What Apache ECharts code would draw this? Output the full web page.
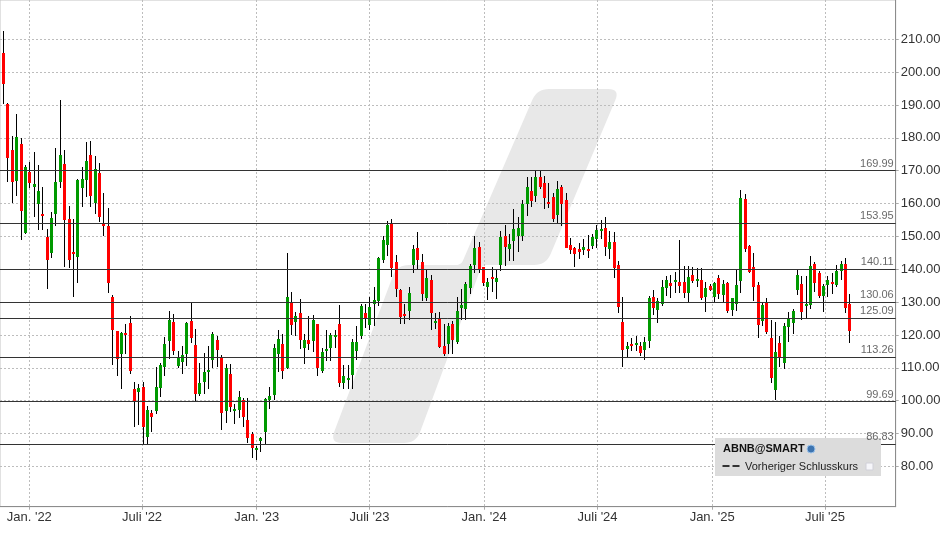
<!DOCTYPE html>
<html><head><meta charset="utf-8">
<script src="https://cdn.jsdelivr.net/npm/echarts@6/dist/echarts.min.js"></script>
<style>html,body{margin:0;padding:0;background:#fff}#c{width:948px;height:534px}</style>
</head><body><div id="c"></div>
<script>
// ---- data ----
const firstCandleDate = [2021, 10, 20]; // weekly candles, step 7 days
const opens = [205.9,190.3,176.3,167.0,178.1,151.1,169.7,165.2,159.7,156.8,149.8,144.8,156.9,166.6,172.0,155.2,145.4,143.7,164.6,167.2,174.8,160.0,169.3,153.9,153.2,131.7,121.1,114.1,120.5,123.5,103.4,102.6,104.0,89.2,96.1,96.8,104.1,110.1,118.4,123.8,110.4,111.8,114.1,124.1,116.8,101.9,105.6,108.6,112.3,118.4,113.2,96.7,108.0,97.0,97.0,100.1,94.0,89.7,84.9,87.6,90.3,100.1,101.6,114.1,117.1,110.1,129.9,124.1,126.6,115.9,118.4,118.0,123.2,108.9,115.0,115.9,119.3,123.2,105.3,106.2,108.0,115.3,119.6,126.6,122.9,129.3,130.2,142.6,147.3,154.0,142.1,133.6,126.3,127.2,141.2,146.4,142.1,131.1,136.6,123.5,125.0,116.5,117.1,123.2,117.7,128.1,128.1,134.2,141.5,146.8,140.7,134.5,137.6,135.9,141.2,150.0,146.1,148.8,150.3,150.0,159.8,163.7,162.1,168.0,166.4,160.4,161.9,156.4,164.9,161.0,147.3,146.4,146.1,145.7,146.1,147.0,149.1,151.8,152.7,146.1,148.2,141.2,123.8,115.6,117.1,116.8,116.5,115.3,118.0,131.7,127.5,129.3,134.2,135.7,136.0,136.0,136.0,132.7,138.1,136.3,136.6,131.4,134.8,131.4,137.2,132.1,135.7,127.5,129.3,136.3,161.3,147.0,140.6,135.1,124.1,129.9,119.0,103.1,117.4,111.4,122.6,123.5,133.6,135.4,128.7,129.0,141.5,138.8,131.7,135.1,136.0,135.1,139.4,141.5,129.3];
const closes = [196.5,174.0,166.7,180.3,157.8,171.1,166.4,166.0,163.8,156.3,142.9,155.6,166.6,174.8,155.1,142.7,144.8,167.1,167.4,173.0,162.3,170.5,156.0,153.3,135.9,121.7,112.6,120.5,120.0,109.0,99.6,103.7,91.7,97.3,94.9,104.0,111.0,117.1,124.7,115.0,112.9,113.8,123.5,119.0,101.9,105.3,108.6,109.2,120.2,115.3,96.1,109.8,98.0,97.6,101.0,94.9,88.5,85.5,85.5,88.5,100.4,101.3,115.9,118.7,108.9,131.7,122.9,125.9,118.4,118.4,117.1,124.4,109.8,114.7,115.6,119.9,119.9,105.3,107.4,106.8,118.0,118.0,128.7,124.7,128.4,130.5,143.3,148.8,153.4,140.3,133.9,125.4,125.7,132.7,146.1,142.7,132.4,137.2,126.6,124.1,116.5,114.1,122.6,118.4,127.2,129.0,135.6,140.9,146.6,139.7,135.9,136.0,137.0,137.2,149.7,146.7,147.6,152.4,152.7,159.8,164.9,160.7,168.0,164.9,161.9,159.8,155.2,164.3,159.8,146.4,145.7,144.5,145.1,146.7,145.4,149.7,151.8,152.4,147.0,148.2,140.3,128.4,115.3,116.5,116.5,117.4,114.4,117.7,131.1,128.4,130.2,134.5,136.6,134.8,136.6,134.8,132.7,137.5,136.3,136.9,131.1,134.2,133.6,135.7,132.4,135.4,127.2,131.1,135.1,161.6,146.1,139.1,134.5,122.9,129.0,120.8,106.8,114.7,112.9,122.6,125.0,127.2,138.1,126.9,129.3,140.9,135.7,131.7,134.8,136.6,135.4,139.4,141.5,128.1,121.1];
const highs = [212.5,190.5,180.6,187.3,180.0,171.7,172.5,175.6,171.7,165.0,152.3,157.4,176.9,191.5,176.3,159.4,155.2,167.5,171.0,178.7,179.1,174.5,172.4,163.2,158.7,132.1,121.1,120.8,123.2,125.7,105.6,105.0,105.6,98.3,97.3,110.1,111.5,119.3,127.2,126.5,115.0,116.5,123.8,129.6,121.7,111.4,114.4,116.5,120.8,119.6,113.8,111.3,111.3,99.1,102.8,100.7,100.7,90.6,86.1,88.8,100.7,104.0,117.1,121.4,120.2,144.8,133.0,126.9,130.8,120.2,125.7,126.0,123.2,115.9,121.4,120.5,121.4,129.0,111.0,110.7,118.7,122.6,129.3,129.3,131.7,134.5,143.6,150.0,154.6,155.2,144.2,133.9,129.3,134.5,147.3,151.2,144.5,140.0,138.1,126.6,126.9,123.2,123.5,124.1,131.7,133.9,136.0,141.5,150.0,148.4,140.7,137.2,140.7,140.1,151.5,153.4,150.6,158.2,155.8,161.0,168.0,168.0,169.8,169.8,168.3,166.4,163.1,166.8,165.8,163.1,149.4,146.7,147.9,149.1,150.3,150.6,153.4,154.9,155.8,151.5,151.2,142.4,131.4,117.7,119.0,119.6,118.0,119.3,132.0,133.6,131.1,136.6,137.8,138.1,139.1,148.8,140.9,140.9,140.6,140.3,140.3,136.0,135.4,136.0,138.1,136.6,136.0,131.1,139.7,164.0,162.8,147.3,144.8,136.0,129.6,131.1,124.7,123.8,119.6,123.5,126.9,127.8,139.9,137.8,137.8,143.9,142.1,139.4,135.4,137.8,138.8,141.2,142.4,143.3,132.4];
const lows = [190.2,166.7,160.3,162.4,149.0,150.7,164.8,156.0,151.8,152.0,134.1,143.5,153.3,164.8,140.8,140.3,131.5,135.7,158.8,162.0,159.1,156.9,154.5,150.2,132.9,111.0,107.4,103.4,114.1,108.0,92.0,92.7,86.5,86.8,90.3,95.8,101.1,107.5,112.6,113.8,109.8,108.0,110.4,117.4,99.8,101.3,101.9,103.4,109.8,110.1,91.0,93.1,96.4,92.8,94.6,91.9,87.0,82.4,81.8,84.3,86.7,97.4,100.1,108.6,106.5,109.5,119.9,119.6,115.6,111.3,115.3,114.7,107.4,108.3,112.0,112.0,115.9,104.0,103.4,103.4,103.4,112.3,118.7,122.0,121.4,122.6,128.7,141.9,143.9,137.6,131.4,123.2,123.2,124.7,138.8,139.7,130.2,130.2,121.4,121.7,115.9,113.5,114.1,114.1,117.1,124.7,124.7,132.4,138.8,138.8,134.8,130.5,133.1,130.8,139.4,140.9,142.4,142.4,145.1,148.5,156.1,158.8,160.4,164.3,158.2,158.5,154.3,153.7,153.1,146.4,144.5,140.6,143.0,144.2,143.3,146.1,146.4,149.1,143.9,143.0,137.2,126.6,110.1,113.2,115.0,115.0,113.5,112.3,115.9,126.0,123.5,128.7,132.0,131.1,132.7,132.7,131.1,129.6,135.7,134.5,130.5,126.9,133.3,129.6,130.8,129.6,126.6,125.7,127.2,132.7,145.4,138.8,130.2,119.0,122.6,120.2,105.3,100.1,110.1,109.5,117.7,120.2,132.1,124.7,125.0,127.8,133.0,131.1,126.9,131.7,132.4,134.5,136.6,126.6,117.4];
const levels = [169.99, 153.95, 140.11, 130.06, 125.09, 113.26, 99.69, 86.83];
const yTicks = [80, 90, 100, 110, 120, 130, 140, 150, 160, 170, 180, 190, 200, 210];
const xTickDates = [[2022,0,1],[2022,6,1],[2023,0,1],[2023,6,1],[2024,0,1],[2024,6,1],[2025,0,1],[2025,6,1]];
const xTickLabels = ["Jan. '22", "Juli '22", "Jan. '23", "Juli '23", "Jan. '24", "Juli '24", "Jan. '25", "Juli '25"];
const xRange = [[2021,10,15], [2025,9,22,12]];
const yRange = [67.71, 221.97];

// ---- build ----
const ts = a => new Date(a[0], a[1], a[2], a[3] || 0).getTime();
const DAY = 86400000;
const t0 = ts(firstCandleDate);
const candles = opens.map((o, i) => [t0 + i * 7 * DAY, o, closes[i], lows[i], highs[i]]);
const xTickTs = xTickDates.map(ts);
const GREEN = '#009900', RED = '#ff0000';

// rounded polygon (decoration only)
function roundedPoly(pts, radii) {
  const out = [];
  const n = pts.length;
  for (let i = 0; i < n; i++) {
    const P = pts[i], A = pts[(i - 1 + n) % n], B = pts[(i + 1) % n];
    const r = radii[i];
    const la = Math.hypot(A[0]-P[0], A[1]-P[1]), lb = Math.hypot(B[0]-P[0], B[1]-P[1]);
    const p1 = [P[0] + (A[0]-P[0]) * r / la, P[1] + (A[1]-P[1]) * r / la];
    const p2 = [P[0] + (B[0]-P[0]) * r / lb, P[1] + (B[1]-P[1]) * r / lb];
    for (let k = 0; k <= 8; k++) {
      const t = k / 8, u = 1 - t;
      out.push([u*u*p1[0] + 2*u*t*P[0] + t*t*p2[0], u*u*p1[1] + 2*u*t*P[1] + t*t*p2[1]]);
    }
  }
  return out;
}
const wmPts = [[537,89],[620,89],[546,265],[482,265],[416,443],[330,443],[397,265],[461,265]];
const wmRad = [12,12,12,5,12,12,12,5];

const chart = echarts.init(document.getElementById('c'), null, {renderer: 'canvas'});
const FONT = 'Liberation Sans, Arial, sans-serif';
const GRIDLINE = {show: true, lineStyle: {color: '#bdbdbd', type: [2, 2], width: 1}};
chart.setOption({
  animation: false,
  backgroundColor: '#ffffff',
  grid: {left: 0, top: 0, right: 52.3, bottom: 27.3, show: true, borderColor: '#c4c4c4', borderWidth: 1, containLabel: false},
  xAxis: {
    type: 'value', min: ts(xRange[0]), max: ts(xRange[1]), scale: true,
    axisLine: {show: true, lineStyle: {color: '#8c8c8c', width: 1}},
    axisTick: {show: true, customValues: xTickTs, length: 3, lineStyle: {color: '#aaaaaa'}},
    axisLabel: {
      customValues: xTickTs, fontSize: 13, color: '#333', fontFamily: FONT, margin: 4,
      formatter: v => { const i = xTickTs.indexOf(v); return i >= 0 ? xTickLabels[i] : ''; }
    },
    splitLine: GRIDLINE
  },
  yAxis: {
    type: 'value', position: 'right', min: yRange[0], max: yRange[1], scale: true,
    axisLine: {show: true, lineStyle: {color: '#8c8c8c', width: 1}},
    axisTick: {show: true, customValues: yTicks, length: 3, lineStyle: {color: '#aaaaaa'}},
    axisLabel: {customValues: yTicks, fontSize: 13, color: '#333', fontFamily: FONT, margin: 5,
      formatter: v => Number(v).toFixed(2)},
    splitLine: GRIDLINE
  },
  graphic: [
    {type: 'polygon', z: -1, silent: true, shape: {points: roundedPoly(wmPts, wmRad)}, style: {fill: '#e8e8e8'}},
    {type: 'rect', z: 50, shape: {x: 715, y: 438, width: 166, height: 38}, style: {fill: '#dcdcdc'}},
    {type: 'text', z: 51, x: 723, y: 449, style: {text: 'ABNB@SMART', font: 'bold 11px ' + FONT, fill: '#111', verticalAlign: 'middle'}},
    {type: 'circle', z: 51, shape: {cx: 811, cy: 449, r: 4}, style: {fill: '#3d74b0', stroke: '#9cc3ea', lineWidth: 1}},
    {type: 'line', z: 51, shape: {x1: 722.5, y1: 466, x2: 741, y2: 466}, style: {stroke: '#333', lineWidth: 2, lineDash: [7, 3]}},
    {type: 'text', z: 51, x: 745, y: 466.5, style: {text: 'Vorheriger Schlusskurs', font: '11px ' + FONT, fill: '#222', verticalAlign: 'middle'}},
    {type: 'rect', z: 51, shape: {x: 866, y: 463, width: 7, height: 7}, style: {fill: '#f6f6fa', stroke: '#d0d0d8', lineWidth: 1}}
  ],
  series: [
    {
      type: 'line', name: 'levels', data: [], z: 1, silent: true,
      markLine: {symbol: ['none', 'none'], silent: true, animation: false,
        lineStyle: {color: '#333', type: 'solid', width: 1},
        label: {show: false},
        data: levels.map(v => ({yAxis: v}))}
    },
    {
      type: 'custom', name: 'ABNB', z: 3,
      data: candles,
      encode: {x: 0, y: [1, 2, 3, 4]},
      clip: true,
      renderItem: function (params, api) {
        const x = api.value(0), o = api.value(1), c = api.value(2), l = api.value(3), h = api.value(4);
        const pO = api.coord([x, o]), pC = api.coord([x, c]), pL = api.coord([x, l]), pH = api.coord([x, h]);
        const xc = Math.round(pO[0]);
        const top = Math.min(pO[1], pC[1]);
        const hh = Math.max(Math.abs(pO[1] - pC[1]), 2);
        return {type: 'group', children: [
          {type: 'rect', shape: {x: xc, y: Math.round(pH[1]), width: 1, height: Math.round(pL[1]) - Math.round(pH[1])}, style: {fill: '#000'}},
          {type: 'rect', shape: {x: xc - 1, y: Math.round(top), width: 3, height: Math.round(hh)}, style: {fill: c >= o ? GREEN : RED}}
        ]};
      }
    },
    {
      type: 'scatter', name: 'levelLabels', z: 100, silent: true, symbolSize: 0,
      data: levels.map(v => [ts(xRange[1]), v]),
      label: {show: true, position: 'left', distance: 2, offset: [0, -7], fontSize: 11, fontFamily: FONT, color: '#444',
        formatter: p => p.value[1].toFixed(2)}
    }
  ]
});
</script>
</body></html>
